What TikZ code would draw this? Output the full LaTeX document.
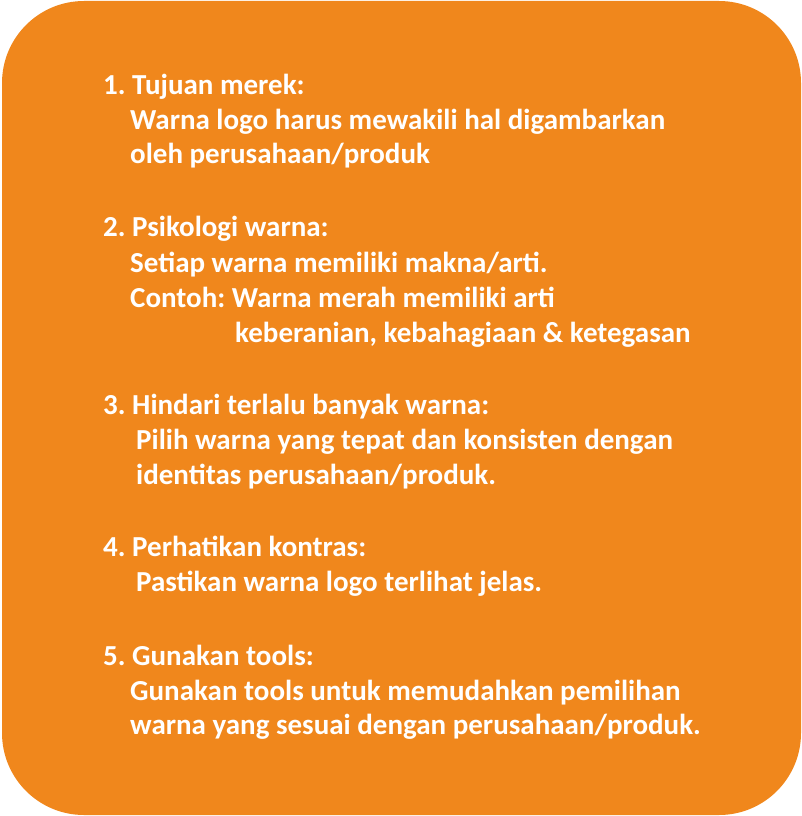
\documentclass[tikz,border=0pt]{standalone}
\usepackage{fontspec}
\setmainfont{Carlito}
\definecolor{boxorange}{RGB}{240,135,28}
\begin{document}
\frenchspacing
\begin{tikzpicture}[x=1pt,y=1pt,
  txt/.style={anchor=base west,inner sep=0pt,text=white,font=\fontsize{29}{34.5}\selectfont\bfseries}]
\useasboundingbox (0,0) rectangle (802,-816);
\fill[boxorange,rounded corners=82pt] (2,-1) rectangle (801,-815);
\node[txt] (l1) at (103,-94.5) {1. Tujuan merek:};
\node[txt] (l2) at (130,-129) {Warna logo harus mewakili hal digambarkan};
\node[txt] (l3) at (130,-163.5) {oleh perusahaan/produk};
\node[txt] (l4) at (103,-236.5) {2. Psikologi warna:};
\node[txt] (l5) at (130,-272) {Setiap warna memiliki makna/arti.};
\node[txt] (l6) at (130,-307) {Contoh: Warna merah memiliki arti};
\node[txt] (l7) at (235,-342) {keberanian, kebahagiaan \& ketegasan};
\node[txt] (l8) at (103,-414) {3. Hindari terlalu banyak warna:};
\node[txt] (l9) at (136,-449) {Pilih warna yang tepat dan konsisten dengan};
\node[txt] (l10) at (136,-484.5) {identitas perusahaan/produk.};
\node[txt] (l11) at (103,-556.5) {4. Perhatikan kontras:};
\node[txt] (l12) at (136,-591.5) {Pastikan warna logo terlihat jelas.};
\node[txt] (l13) at (103,-665) {5. Gunakan tools:};
\node[txt] (l14) at (130,-700) {Gunakan tools untuk memudahkan pemilihan};
\node[txt] (l15) at (130,-734.5) {warna yang sesuai dengan perusahaan/produk.};
\end{tikzpicture}
\end{document}
